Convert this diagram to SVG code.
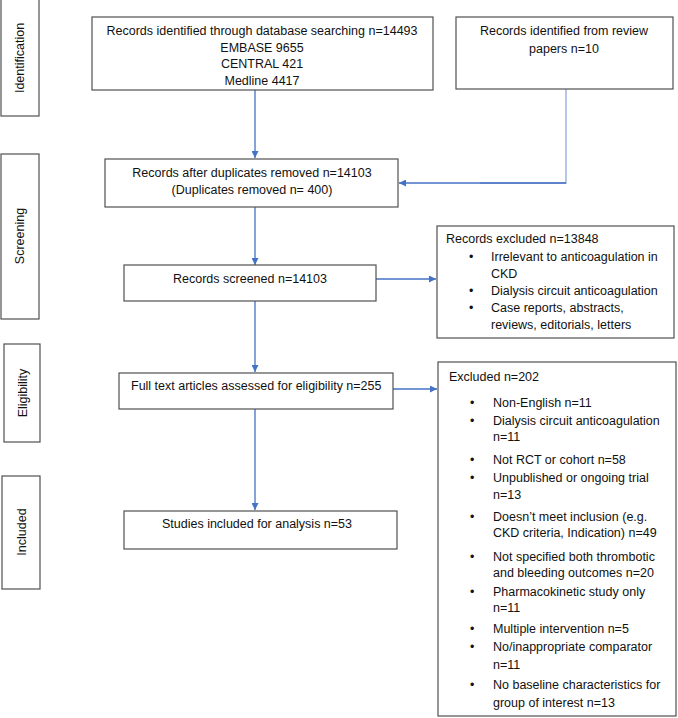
<svg xmlns="http://www.w3.org/2000/svg" width="678" height="718" viewBox="0 0 678 718">
<defs>
<style>
.box{fill:#fff;stroke:#505050;stroke-width:1.2}
.t{font-family:"Liberation Sans",Arial,sans-serif;font-size:12.5px;fill:#111}
.m{text-anchor:middle}
.c{stroke:#4472C4;stroke-width:1.3;fill:none}
.c2{stroke:#8FAADC;stroke-width:1.3;fill:none}
</style>
<marker id="ah" viewBox="0 0 10 10" refX="10" refY="5" markerWidth="7" markerHeight="7" markerUnits="userSpaceOnUse" orient="auto">
<path d="M0,0 L10,5 L0,10 z" fill="#4472C4"/>
</marker>
</defs>
<rect width="678" height="718" fill="#fff"/>

<g id="phase-identification">
<rect class="box" x="1" y="-1" width="38" height="117"/>
<text class="t m" transform="translate(24,58) rotate(-90)">Identification</text>
</g>
<g id="phase-screening">
<rect class="box" x="1" y="154" width="38" height="165"/>
<text class="t m" transform="translate(24,236) rotate(-90)">Screening</text>
</g>
<g id="phase-eligibility">
<rect class="box" x="4" y="344" width="36" height="98"/>
<text class="t m" transform="translate(27,393) rotate(-90)">Eligibility</text>
</g>
<g id="phase-included">
<rect class="box" x="2" y="476" width="38" height="113"/>
<text class="t m" transform="translate(26,532) rotate(-90)">Included</text>
</g>

<g id="connectors">
<line class="c" x1="255" y1="90" x2="255" y2="158" marker-end="url(#ah)"/>
<polyline class="c2" points="566,89 566,183 480,183"/>
<line class="c" x1="566" y1="183" x2="399" y2="183" marker-end="url(#ah)"/>
<line class="c" x1="255" y1="207" x2="255" y2="265" marker-end="url(#ah)"/>
<line class="c" x1="376" y1="279" x2="436" y2="279" marker-end="url(#ah)"/>
<line class="c" x1="255" y1="301" x2="255" y2="372" marker-end="url(#ah)"/>
<line class="c" x1="393" y1="389" x2="437" y2="389" marker-end="url(#ah)"/>
<line class="c" x1="255" y1="409" x2="255" y2="510" marker-end="url(#ah)"/>
</g>

<g id="node-database">
<rect class="box" x="92" y="17" width="341" height="73"/>
<text class="t m" x="262" y="35">Records identified through database searching n=14493</text>
<text class="t m" x="262" y="52">EMBASE 9655</text>
<text class="t m" x="262" y="68">CENTRAL 421</text>
<text class="t m" x="262" y="85">Medline 4417</text>
</g>
<g id="node-review">
<rect class="box" x="456" y="17" width="217" height="72"/>
<text class="t m" x="564" y="35">Records identified from review</text>
<text class="t m" x="564" y="53">papers n=10</text>
</g>
<g id="node-duplicates">
<rect class="box" x="105" y="159" width="293" height="48"/>
<text class="t m" x="252" y="177">Records after duplicates removed n=14103</text>
<text class="t m" x="252" y="194">(Duplicates removed n= 400)</text>
</g>
<g id="node-screened">
<rect class="box" x="124" y="265" width="252" height="36"/>
<text class="t m" x="250" y="283">Records screened n=14103</text>
</g>
<g id="node-excluded1">
<rect class="box" x="437" y="226" width="237" height="112"/>
<text class="t" x="446" y="243">Records excluded n=13848</text>
<text class="t" x="469" y="261">•</text><text class="t" x="491" y="261">Irrelevant to anticoagulation in</text>
<text class="t" x="491" y="278">CKD</text>
<text class="t" x="469" y="295">•</text><text class="t" x="491" y="295">Dialysis circuit anticoagulation</text>
<text class="t" x="469" y="312">•</text><text class="t" x="491" y="312">Case reports, abstracts,</text>
<text class="t" x="491" y="329">reviews, editorials, letters</text>
</g>
<g id="node-fulltext">
<rect class="box" x="119" y="373" width="274" height="36"/>
<text class="t" x="131" y="390">Full text articles assessed for eligibility n=255</text>
</g>
<g id="node-excluded2">
<rect class="box" x="438" y="362" width="238" height="354"/>
<text class="t" x="449" y="381">Excluded n=202</text>
<text class="t" x="470" y="407">•</text><text class="t" x="493" y="407">Non-English n=11</text>
<text class="t" x="470" y="425">•</text><text class="t" x="493" y="425">Dialysis circuit anticoagulation</text>
<text class="t" x="493" y="441">n=11</text>
<text class="t" x="470" y="464">•</text><text class="t" x="493" y="464">Not RCT or cohort n=58</text>
<text class="t" x="470" y="482">•</text><text class="t" x="493" y="482">Unpublished or ongoing trial</text>
<text class="t" x="493" y="499">n=13</text>
<text class="t" x="470" y="521">•</text><text class="t" x="493" y="521">Doesn’t meet inclusion (e.g.</text>
<text class="t" x="493" y="537">CKD criteria, Indication) n=49</text>
<text class="t" x="470" y="561">•</text><text class="t" x="493" y="561">Not specified both thrombotic</text>
<text class="t" x="493" y="577">and bleeding outcomes n=20</text>
<text class="t" x="470" y="596">•</text><text class="t" x="493" y="596">Pharmacokinetic study only</text>
<text class="t" x="493" y="612">n=11</text>
<text class="t" x="470" y="633">•</text><text class="t" x="493" y="633">Multiple intervention n=5</text>
<text class="t" x="470" y="651">•</text><text class="t" x="493" y="651">No/inappropriate comparator</text>
<text class="t" x="493" y="669">n=11</text>
<text class="t" x="470" y="689">•</text><text class="t" x="493" y="689">No baseline characteristics for</text>
<text class="t" x="493" y="707">group of interest n=13</text>
</g>
<g id="node-included">
<rect class="box" x="124" y="511" width="273" height="38"/>
<text class="t m" x="257" y="528">Studies included for analysis n=53</text>
</g>
</svg>
